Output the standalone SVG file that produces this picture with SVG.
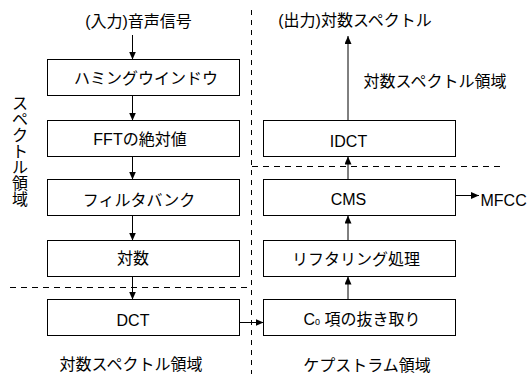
<svg xmlns="http://www.w3.org/2000/svg" width="531" height="374" viewBox="0 0 531 374">
<defs>
<style>
text{font-family:"Liberation Sans","Noto Sans CJK JP",sans-serif;font-size:16px;fill:#000;}
.c{text-anchor:middle;}
.box{fill:#fff;stroke:#000;stroke-width:1;}
.ln{fill:none;stroke:#000;stroke-width:1;}
.dash{fill:none;stroke:#000;stroke-width:1;stroke-dasharray:5 5;}
.dashh{fill:none;stroke:#000;stroke-width:1;stroke-dasharray:6 5;}
</style>
<marker id="ah" markerWidth="8" markerHeight="7" refX="8" refY="3.5" orient="auto" markerUnits="userSpaceOnUse">
<path d="M0,0 L8,3.5 L0,7 z" fill="#000"/>
</marker>
</defs>
<rect width="531" height="374" fill="#fff"/>

<g id="dividers">
<line class="dash" x1="251.5" y1="10" x2="251.5" y2="374"/>
<line class="dashh" x1="10" y1="287.5" x2="247" y2="287.5"/>
<line class="dashh" x1="252" y1="166.5" x2="503" y2="166.5"/>
</g>

<g id="connectors">
<line class="ln" x1="132.5" y1="35" x2="132.5" y2="59.5" marker-end="url(#ah)"/>
<line class="ln" x1="132.5" y1="95.5" x2="132.5" y2="120.5" marker-end="url(#ah)"/>
<line class="ln" x1="132.5" y1="156.5" x2="132.5" y2="179.5" marker-end="url(#ah)"/>
<line class="ln" x1="132.5" y1="215.5" x2="132.5" y2="240.5" marker-end="url(#ah)"/>
<line class="ln" x1="132.5" y1="276.5" x2="132.5" y2="299.5" marker-end="url(#ah)"/>
<line class="ln" x1="239.5" y1="322.5" x2="263.5" y2="322.5" marker-end="url(#ah)"/>
<line class="ln" x1="348" y1="299.5" x2="348" y2="276.5" marker-end="url(#ah)"/>
<line class="ln" x1="348" y1="240.5" x2="348" y2="215.5" marker-end="url(#ah)"/>
<line class="ln" x1="348" y1="179.5" x2="348" y2="156.5" marker-end="url(#ah)"/>
<line class="ln" x1="348" y1="120.5" x2="348" y2="36" marker-end="url(#ah)"/>
<line class="ln" x1="455.5" y1="195.5" x2="479" y2="195.5" marker-end="url(#ah)"/>
</g>

<g id="n-hamming"><rect class="box" x="47.5" y="59.5" width="192" height="36"/><text class="c" x="146" y="84">ハミングウインドウ</text></g>
<g id="n-fft"><rect class="box" x="47.5" y="120.5" width="192" height="36"/><text class="c" x="140" y="145">FFTの絶対値</text></g>
<g id="n-filter"><rect class="box" x="47.5" y="179.5" width="192" height="36"/><text class="c" x="139" y="205.5">フィルタバンク</text></g>
<g id="n-log"><rect class="box" x="47.5" y="240.5" width="192" height="36"/><text class="c" x="133" y="264">対数</text></g>
<g id="n-dct"><rect class="box" x="47.5" y="299.5" width="192" height="36"/><text class="c" x="133" y="325.5">DCT</text></g>

<g id="n-idct"><rect class="box" x="263.5" y="120.5" width="192" height="36"/><text class="c" x="348.5" y="146.5">IDCT</text></g>
<g id="n-cms"><rect class="box" x="263.5" y="179.5" width="192" height="36"/><text class="c" x="348.5" y="205">CMS</text></g>
<g id="n-lifter"><rect class="box" x="263.5" y="240.5" width="192" height="36"/><text class="c" x="356" y="264.5">リフタリング処理</text></g>
<g id="n-c0"><rect class="box" x="263.5" y="299.5" width="192" height="36"/><text class="c" x="362" y="325">C<tspan font-size="9">0</tspan> 項の抜き取り</text></g>

<g id="labels">
<text class="c" x="138.5" y="26.5">(入力)音声信号</text>
<text class="c" x="355" y="26">(出力)対数スペクトル</text>
<text class="c" x="435" y="86.5">対数スペクトル領域</text>
<text x="480.5" y="205.5">MFCC</text>
<text class="c" x="131" y="370">対数スペクトル領域</text>
<text class="c" x="367" y="371">ケプストラム領域</text>
<text class="c" x="20"><tspan x="20" y="108.5">ス</tspan><tspan x="20" y="124.5">ペ</tspan><tspan x="20" y="140.5">ク</tspan><tspan x="20" y="156.5">ト</tspan><tspan x="20" y="172.5">ル</tspan><tspan x="20" y="188.5">領</tspan><tspan x="20" y="204.5">域</tspan></text>
</g>
</svg>
